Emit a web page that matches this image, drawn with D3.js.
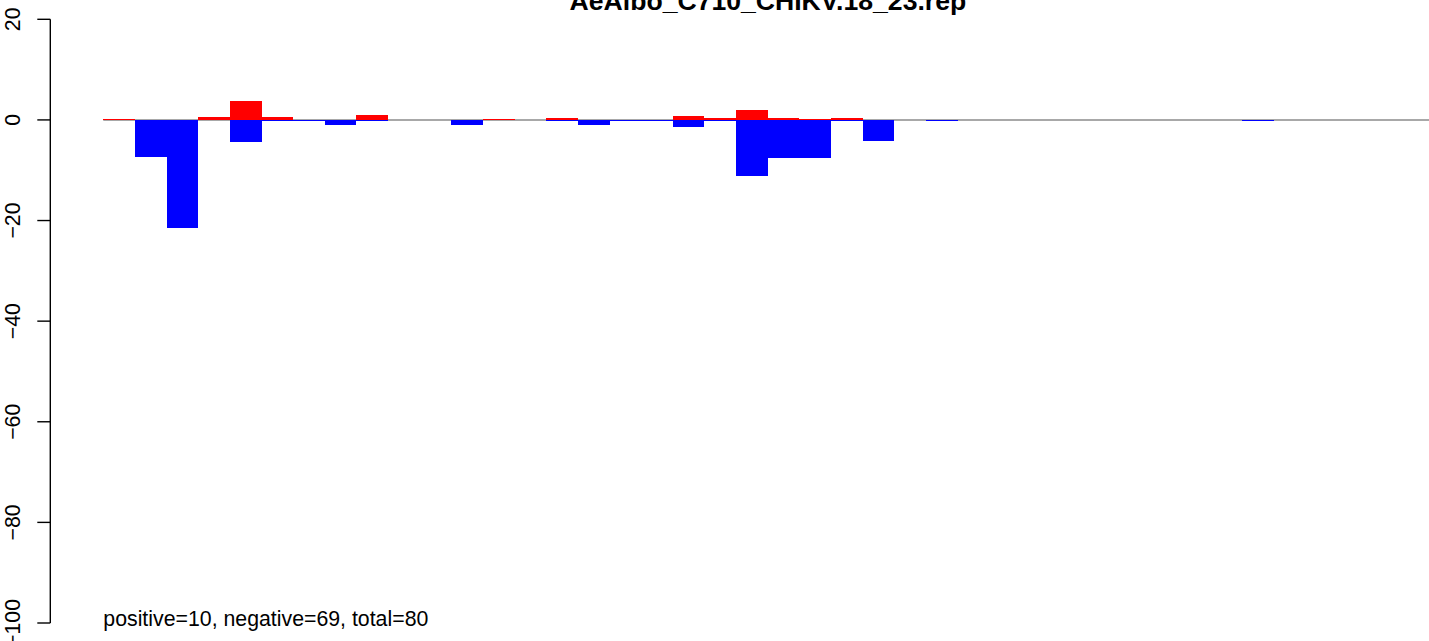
<!DOCTYPE html>
<html>
<head>
<meta charset="utf-8">
<script src="https://cdn.jsdelivr.net/npm/d3@7"></script>
<style>
  html, body { margin: 0; padding: 0; background: #ffffff; }
  svg { display: block; }
  text { font-family: "Liberation Sans", Arial, Helvetica, sans-serif; }
</style>
</head>
<body>
<svg id="chart" width="1429" height="641"></svg>
<script>
// ---- data ----
const title = "AeAlbo_C710_CHIKV.18_23.rep";
const footnote = "positive=10, negative=69, total=80";
const bins = d3.range(42); // 42 bins along x
const positiveValues = [0.2, 0, 0, 0.5, 3.8, 0.5, 0, 0, 1.0, 0,
                        0, 0, 0.2, 0, 0.4, 0, 0, 0, 0.8, 0.4,
                        2.0, 0.4, 0.2, 0.4, 0, 0, 0, 0, 0, 0,
                        0, 0, 0, 0, 0, 0, 0, 0, 0, 0,
                        0, 0];
const negativeValues = [0, -7.3, -21.5, 0, -4.4, -0.3, -0.2, -1.0, -0.2, 0,
                        0, -1.0, 0, 0, -0.3, -1.1, -0.3, -0.2, -1.4, -0.3,
                        -11.1, -7.5, -7.5, -0.3, -4.2, 0, -0.2, 0, 0, 0,
                        0, 0, 0, 0, 0, 0, -0.2, 0, 0, 0,
                        0, 0];
const yTicks = [20, 0, -20, -40, -60, -80, -100];
const yDomain = [-100, 20];

// ---- layout ----
const svg = d3.select("#chart");
const axisX = 50.3;
const plotRight = 1485.5;
const x = d3.scaleBand().domain(bins).range([103.3, 103.3 + 42 * 31.64]).padding(0);
const y = d3.scaleLinear().domain(yDomain).range([623, 19.3]);
const y0 = y(0);

// baseline (gray)
svg.append("line")
  .attr("x1", x.range()[0]).attr("x2", x.range()[1])
  .attr("y1", y0).attr("y2", y0)
  .attr("stroke", "#a8a8a8").attr("stroke-width", 2);

function drawBars(values, color, cls) {
  const data = bins.map(i => ({ i, v: values[i] })).filter(d => d.v !== 0);
  svg.selectAll("rect." + cls).data(data).enter().append("rect")
    .attr("class", cls)
    .attr("x", d => x(d.i))
    .attr("width", x.bandwidth())
    .attr("y", d => Math.min(y(d.v), y0))
    .attr("height", d => Math.max(1, Math.abs(y(d.v) - y0)))
    .attr("fill", color)
    .attr("shape-rendering", "crispEdges");
}
drawBars(positiveValues, "#ff0000", "pos");
drawBars(negativeValues, "#0000ff", "neg");

// y axis (R style)
const axisG = svg.append("g");
axisG.append("line")
  .attr("x1", axisX).attr("x2", axisX)
  .attr("y1", y(yTicks[0])).attr("y2", y(yTicks[yTicks.length - 1]))
  .attr("stroke", "#000").attr("stroke-width", 1.4);
axisG.selectAll("line.tick").data(yTicks).enter().append("line")
  .attr("class", "tick")
  .attr("x1", axisX - 13).attr("x2", axisX)
  .attr("y1", d => y(d)).attr("y2", d => y(d))
  .attr("stroke", "#000").attr("stroke-width", 1.4);
axisG.selectAll("text.tl").data(yTicks).enter().append("text")
  .attr("class", "tl")
  .attr("transform", d => `translate(20,${y(d)}) rotate(-90)`)
  .attr("text-anchor", "middle")
  .attr("font-size", 21.3)
  .attr("fill", "#000")
  .text(d => d < 0 ? "\u2212" + Math.abs(d) : String(d));

// title
svg.append("text")
  .attr("x", (axisX + plotRight) / 2)
  .attr("y", 9.5)
  .attr("text-anchor", "middle")
  .attr("font-size", 26.6)
  .attr("font-weight", "bold")
  .attr("fill", "#000")
  .text(title);

// footnote
svg.append("text")
  .attr("x", x.range()[0])
  .attr("y", 626)
  .attr("font-size", 21.3)
  .attr("fill", "#000")
  .text(footnote);
</script>
</body>
</html>
